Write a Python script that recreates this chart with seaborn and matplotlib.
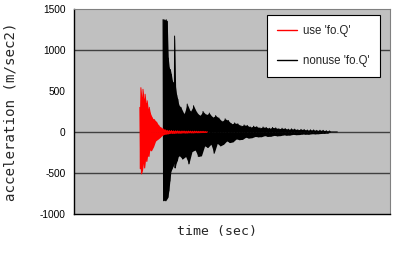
import numpy as np
import pandas as pd
import matplotlib
matplotlib.use("Agg")
import matplotlib.pyplot as plt
import seaborn as sns
from matplotlib.lines import Line2D

# ---- data (peak values of the waveforms) ----
series_names = ["use 'fo.Q'", "nonuse 'fo.Q'"]

use_time = [12.5, 12.6, 12.7, 12.8, 12.9, 13.0, 13.1, 13.2, 13.3, 13.4, 13.5,
            13.6, 13.7, 13.8, 13.9, 14.0, 14.1, 14.2, 14.3, 14.4, 14.5,
            14.7, 14.9, 15.1, 15.3, 15.5, 15.7, 15.9, 16.1, 16.3, 16.5, 16.7,
            16.9, 17.1, 17.3, 17.5, 17.7, 17.9, 18.1, 18.3, 18.5, 18.7, 18.9,
            19.1, 19.3, 19.5, 19.7, 19.9, 20.1, 20.3, 20.5, 20.7, 20.9, 21.1,
            21.3, 21.5, 21.7, 21.9, 22.1, 22.3, 22.5, 22.7, 22.9, 23.1, 23.3,
            23.5, 23.7, 23.9, 24.1, 24.3, 24.5, 24.7, 24.9, 25.1, 25.3]
use_accel = [300, -450, 540, -512, 420, -470, 520, -380, 400, -440, 460,
             -330, 350, -360, 380, -280, 280, -300, 300, -220, 230,
             -230, 170, -180, 150, -110, 120, -90, 80, -70, 55, -45,
             40, -30, 28, -25, 20, -22, 18, -14, 18, -16, 14,
             -15, 14, -12, 14, -13, 11, -13, 12, -10, 12, -12,
             10, -11, 11, -9, 10, -10, 9, -10, 10, -8, 9,
             -9, 8, -8, 8, -7, 8, -7, 6, -6, 5]

nonuse_time = [16.9, 17.0, 17.1, 17.2, 17.3, 17.4, 17.5, 17.6, 17.7, 17.8,
               17.9, 18.0, 18.1, 18.2, 18.3, 18.4, 18.5, 18.6, 18.7, 18.8,
               18.9, 19.0, 19.1, 19.2, 19.3, 19.4, 19.5, 19.6, 19.7, 19.8, 19.9,
               20.0, 20.3, 20.6, 20.9, 21.2, 21.5, 21.8, 22.1, 22.4, 22.7,
               23.0, 23.3, 23.6, 23.9, 24.2, 24.5, 24.8, 25.1, 25.4, 25.7,
               26.0, 26.3, 26.6, 26.9, 27.2, 27.5, 27.8, 28.1, 28.4, 28.7,
               29.0, 29.3, 29.6, 29.9, 30.2, 30.5, 30.8, 31.1, 31.4, 31.7,
               32.0, 32.3, 32.6, 32.9, 33.2, 33.5, 33.8, 34.1, 34.4, 34.7,
               35.0, 35.3, 35.6, 35.9, 36.2, 36.5, 36.8, 37.1, 37.4, 37.7,
               38.0, 38.3, 38.6, 38.9, 39.2, 39.5, 39.8, 40.1, 40.4, 40.7,
               41.0, 41.3, 41.6, 41.9, 42.2, 42.5, 42.8, 43.1, 43.4, 43.7,
               44.0, 44.3, 44.6, 44.9, 45.2, 45.5, 45.8, 46.1, 46.4, 46.7,
               47.0, 47.3, 47.6, 47.9, 48.2, 48.5, 48.7, 50.0]
nonuse_accel = [1370, -840, 1370, -830, 1360, -840, 1370, -820, 1350, -800,
                900, -720, 780, -600, 760, -480, 700, -450, 620, -420,
                600, -380, 1170, -440, 540, -380, 450, -350, 400, -300, 330,
                -290, 300, -330, 220, -300, 340, -390, 250, -240, 320,
                -220, 240, -300, 200, -290, 250, -170, 210, -190, 230,
                -150, 180, -260, 200, -140, 170, -170, 130, -150, 160,
                -110, 140, -130, 100, -120, 110, -85, 100, -95, 75,
                -90, 85, -65, 80, -75, 60, -70, 70, -55, 65,
                -60, 50, -58, 60, -45, 55, -55, 45, -52, 55,
                -42, 50, -48, 40, -45, 45, -36, 42, -40, 34,
                -38, 38, -30, 35, -34, 28, -32, 32, -26, 30,
                -28, 24, -28, 26, -22, 25, -24, 20, -22, 21,
                -18, 20, -17, 15, -14, 12, 0, 0]

y_ticks = [-1000, -500, 0, 500, 1000, 1500]
grid_levels = [1000, 0, -500]
x_ticks = [0, 10, 20, 30, 40, 50, 60]
series_colors = ["#ff0000", "#000000"]

# ---- figure ----
sns.set_style("white")
plt.rcParams["font.family"] = ["Liberation Sans", "DejaVu Sans"]

fig = plt.figure(figsize=(4.0, 2.8), dpi=100)
ax = fig.add_axes([0.185, 0.236, 0.79, 0.732])
ax.set_facecolor("#c0c0c0")

for lv in grid_levels:
    ax.axhline(lv, color="#404040", lw=1.0, zorder=0.5)


def draw_wave(time, accel, color, z):
    df = pd.DataFrame({"t": time, "a": accel})
    pos = df[df["a"] >= 0]
    neg = df[df["a"] <= 0]
    # solid body of the dense oscillation (between zero and the peaks)
    ax.fill_between(pos["t"], 0, pos["a"], color=color, lw=0, zorder=z)
    ax.fill_between(neg["t"], 0, neg["a"], color=color, lw=0, zorder=z)
    # the oscillation itself
    sns.lineplot(data=df, x="t", y="a", sort=False, estimator=None,
                 color=color, lw=0.7, ax=ax, zorder=z + 0.1)


draw_wave(nonuse_time, nonuse_accel, series_colors[1], 2)
draw_wave(use_time, use_accel, series_colors[0], 3)

ax.set_xlim(0, 60)
ax.set_ylim(-1000, 1500)
ax.set_yticks(y_ticks)
ax.set_yticklabels([str(v) for v in y_ticks], fontsize=7.3)
ax.set_xticks(x_ticks)
ax.set_xticklabels([])
ax.tick_params(axis="y", direction="out", length=3, width=0.8, pad=3, colors="black")
ax.tick_params(axis="x", direction="in", length=3, width=0.8, colors="black")

for side in ["left", "bottom"]:
    ax.spines[side].set_color("black")
    ax.spines[side].set_linewidth(1.0)
for side in ["top", "right"]:
    ax.spines[side].set_visible(True)
    ax.spines[side].set_color("#808080")
    ax.spines[side].set_linewidth(0.8)

ax.set_xlabel("time (sec)", fontsize=9.5, family="DejaVu Sans Mono")
ax.xaxis.set_label_coords(0.453, -0.055)
ax.set_ylabel("acceleration (m/sec2)", fontsize=10.2, family="DejaVu Sans Mono")
ax.yaxis.set_label_coords(-0.178, 0.5)

handles = [Line2D([], [], color=series_colors[0], lw=1.0),
           Line2D([], [], color=series_colors[1], lw=1.0)]
leg = ax.legend(handles, series_names, loc="upper left",
                bbox_to_anchor=(0.611, 0.971), fontsize=8.3,
                handlelength=1.7, handletextpad=0.5, labelspacing=1.5,
                borderpad=0.9, frameon=True, fancybox=False, framealpha=1.0,
                borderaxespad=0)
leg.get_frame().set_edgecolor("black")
leg.get_frame().set_linewidth(0.8)
leg.get_frame().set_facecolor("white")

fig.savefig("out.png", dpi=100)
